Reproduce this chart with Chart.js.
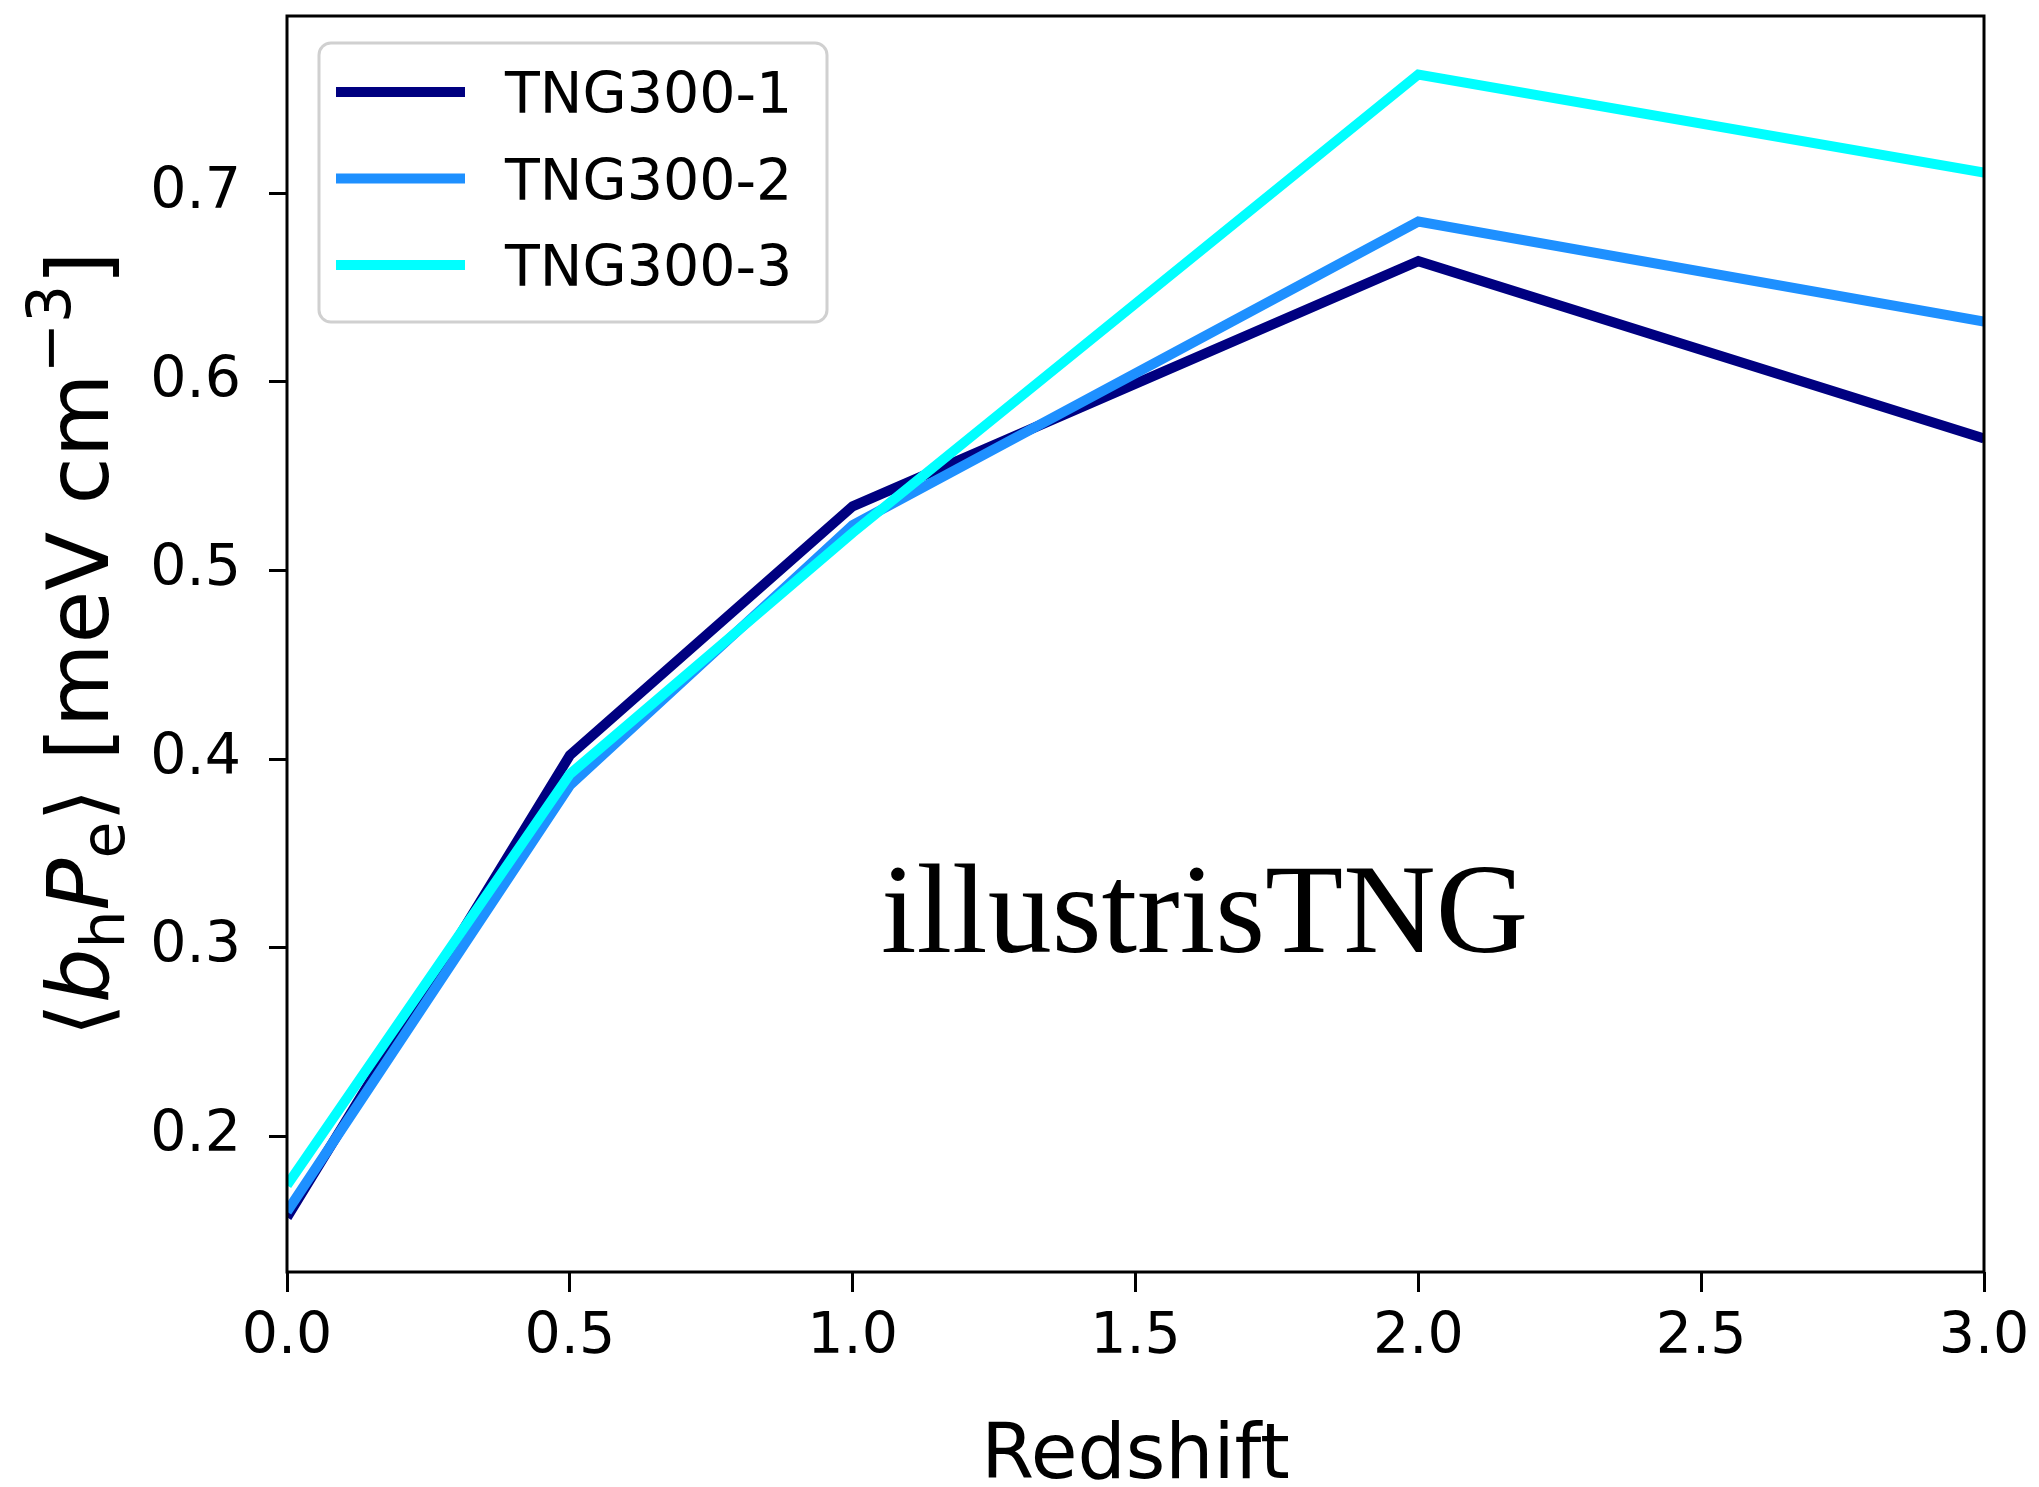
<!DOCTYPE html>
<html>
<head>
<meta charset="utf-8">
<title>bhPe vs redshift</title>
<script src="https://cdn.jsdelivr.net/npm/chart.js@4"></script>
<style>
  html, body { margin: 0; padding: 0; background: #fff; }
  #wrap { width: 2039px; height: 1487px; position: relative; }
</style>
</head>
<body>
<div id="wrap"><canvas id="myChart"></canvas></div>
<script>
// data
const redshift = [0, 0.5, 1.0, 2.0, 3.0];
const tng300_1 = [0.157, 0.402, 0.534, 0.664, 0.570];
const tng300_2 = [0.160, 0.386, 0.524, 0.685, 0.632];
const tng300_3 = [0.174, 0.392, 0.520, 0.763, 0.711];
const seriesNames = ['TNG300-1', 'TNG300-2', 'TNG300-3'];
const xTicks = [0, 0.5, 1.0, 1.5, 2.0, 2.5, 3.0];
const yTicks = [0.2, 0.3, 0.4, 0.5, 0.6, 0.7];

Chart.defaults.font.family = 'DejaVu Sans';
Chart.defaults.color = '#000';

function pts(ys) {
    return redshift.map(function(x, i) { return {x: x, y: ys[i]}; });
}

// frame, legend box, y label and the annotation
var extras = {
    id: 'extras',
    afterDraw: function(chart) {
        var ctx = chart.ctx;
        var a = chart.chartArea;
        ctx.save();

        // axes frame on all four sides
        ctx.strokeStyle = '#000';
        ctx.lineWidth = 3;
        ctx.strokeRect(a.left, a.top, a.right - a.left, a.bottom - a.top);

        // legend
        var bx = a.left + 32, by = a.top + 27, bw = 508, bh = 279;
        ctx.beginPath();
        ctx.roundRect(bx, by, bw, bh, 12);
        ctx.fillStyle = 'rgba(255,255,255,0.8)';
        ctx.fill();
        ctx.strokeStyle = '#d0d0d0';
        ctx.lineWidth = 3;
        ctx.stroke();
        ctx.font = '57px "DejaVu Sans"';
        ctx.textBaseline = 'alphabetic';
        ctx.textAlign = 'left';
        chart.data.datasets.forEach(function(ds, i) {
            var ry = by + 49 + i * 86.5;
            ctx.beginPath();
            ctx.moveTo(bx + 17, ry);
            ctx.lineTo(bx + 146, ry);
            ctx.strokeStyle = ds.borderColor;
            ctx.lineWidth = 10;
            ctx.stroke();
            ctx.fillStyle = '#000';
            ctx.fillText(ds.label, bx + 186, ry + 21);
        });

        // illustrisTNG annotation
        var xs = chart.scales.x, ys = chart.scales.y;
        ctx.font = '128px "Liberation Serif"';
        ctx.fillStyle = '#000';
        ctx.fillText('illustrisTNG', xs.getPixelForValue(1.05), ys.getPixelForValue(0.2975));

        // y axis title with sub/superscripts, rotated
        var big = 86, small = 60;
        var parts = [
            {t: '\u27E8', f: big + 'px "DejaVu Sans"', dy: 0},
            {t: 'b', f: 'italic ' + big + 'px "DejaVu Sans"', dy: 0},
            {t: 'h', f: small + 'px "DejaVu Sans"', dy: 16},
            {t: 'P', f: 'italic ' + big + 'px "DejaVu Sans"', dy: 0},
            {t: 'e', f: small + 'px "DejaVu Sans"', dy: 16},
            {t: '\u27E9 [meV cm', f: big + 'px "DejaVu Sans"', dy: 0},
            {t: '\u22123', f: small + 'px "DejaVu Sans"', dy: -38},
            {t: ']', f: big + 'px "DejaVu Sans"', dy: 0}
        ];
        var total = 0;
        parts.forEach(function(p) { ctx.font = p.f; p.w = ctx.measureText(p.t).width; total += p.w; });
        ctx.translate(108, (a.top + a.bottom) / 2);
        ctx.rotate(-Math.PI / 2);
        var cx = -total / 2;
        parts.forEach(function(p) {
            ctx.font = p.f;
            ctx.fillText(p.t, cx, p.dy);
            cx += p.w;
        });

        // x axis title
        ctx.setTransform(1, 0, 0, 1, 0, 0);
        ctx.font = '76px "DejaVu Sans"';
        ctx.textAlign = 'center';
        ctx.fillText('Redshift', (a.left + a.right) / 2, 1478);
        ctx.restore();
    }
};

var ctx = document.getElementById('myChart').getContext('2d');
var chart = new Chart(ctx, {
    type: 'line',
    data: {
        datasets: [{
            label: seriesNames[0],
            data: pts(tng300_1),
            borderColor: '#000080',
            order: 3
        },
        {
            label: seriesNames[1],
            data: pts(tng300_2),
            borderColor: '#1E90FF',
            order: 2
        },
        {
            label: seriesNames[2],
            data: pts(tng300_3),
            borderColor: '#00FFFF',
            order: 1
        }]
    },
    options: {
        responsive: true,
        maintainAspectRatio: false,
        animation: false,
        devicePixelRatio: 1,
        layout: { padding: { left: 0, right: 55, top: 16, bottom: 0 } },
        elements: {
            line: { borderWidth: 10, tension: 0, fill: false, borderJoinStyle: 'miter' },
            point: { radius: 0, hoverRadius: 0 }
        },
        datasets: { line: { clip: 0 } },
        plugins: { legend: { display: false }, tooltip: { enabled: false } },
        scales: {
            x: {
                type: 'linear',
                min: 0,
                max: 3,
                border: { display: false },
                grid: { drawOnChartArea: false, drawTicks: true, tickLength: 20, tickColor: '#000', tickWidth: 3 },
                afterBuildTicks: function(s) { s.ticks = xTicks.map(function(v) { return {value: v}; }); },
                afterFit: function(s) { s.height = 215; s.paddingLeft = 0; s.paddingRight = 0; },
                ticks: {
                    font: { size: 57 },
                    padding: 12,
                    maxRotation: 0,
                    callback: function(v) { return Number(v).toFixed(1); }
                }
            },
            y: {
                type: 'linear',
                min: 0.128,
                max: 0.794,
                border: { display: false },
                grid: { drawOnChartArea: false, drawTicks: true, tickLength: 18, tickColor: '#000', tickWidth: 3 },
                afterBuildTicks: function(s) { s.ticks = yTicks.map(function(v) { return {value: v}; }); },
                afterFit: function(s) { s.width = 287; s.paddingTop = 0; s.paddingBottom = 0; },
                ticks: {
                    font: { size: 57 },
                    padding: 28,
                    callback: function(v) { return Number(v).toFixed(1); }
                }
            }
        }
    },
    plugins: [extras]
});
</script>
</body>
</html>
